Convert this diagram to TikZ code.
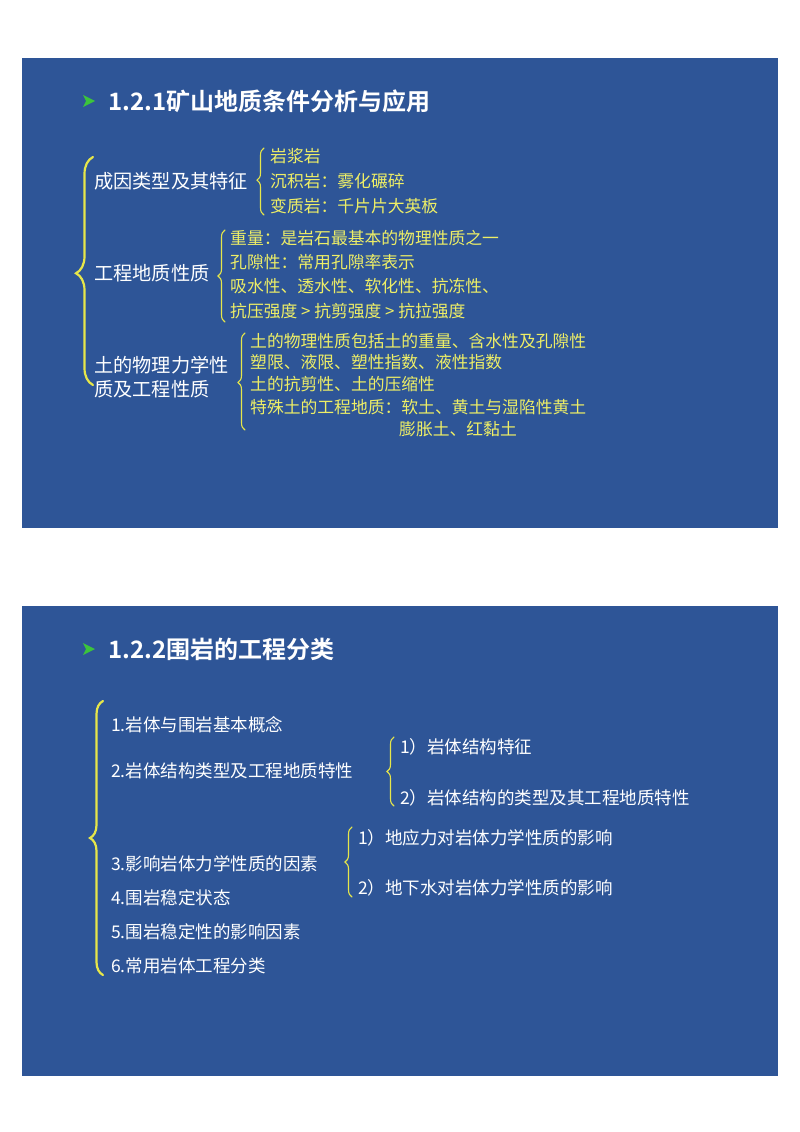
\documentclass[tikz,border=0pt]{standalone}
\usepackage{fontspec}
\setmainfont{Noto Sans CJK SC}
\newfontfamily\cjkb{Noto Sans CJK SC Bold}
\usetikzlibrary{decorations.pathreplacing}
\definecolor{slide}{HTML}{2E5597}
\definecolor{yel}{HTML}{EEEE66}
\definecolor{brc}{HTML}{E6E64A}
\definecolor{grn}{HTML}{3CC43C}
\tikzset{
  wt/.style={anchor=west,inner sep=0pt,text=white,font=\fontsize{19.2}{19.2}\selectfont},
  yt/.style={anchor=west,inner sep=0pt,text=yel,font=\fontsize{16.8}{16.8}\selectfont},
  bt/.style={anchor=west,inner sep=0pt,text=white,font=\fontsize{17.5}{17.5}\selectfont},
  ttl/.style={anchor=west,inner sep=0pt,text=white,font=\cjkb\fontsize{24}{24}\selectfont},
  brbig/.style={draw=brc,line width=2.2pt,line cap=round,decorate},
  brsm/.style={draw=brc,line width=1.1pt,line cap=round,decorate},
  bul/.style={fill=grn},
}
\begin{document}
\begin{tikzpicture}[x=1pt,y=-1pt]
\useasboundingbox (0,0) rectangle (800,1132);
\fill[white] (0,0) rectangle (800,1132);
\fill[slide] (22,58) rectangle (778,528);
\fill[slide] (22,606) rectangle (778,1076);
% titles
\fill[bul] (83,95) -- (95,101) -- (83,107) -- (86,101) -- cycle;
\node[ttl] (t1) at (108,101) {1.2.1矿山地质条件分析与应用};
\fill[bul] (83,643) -- (95,649) -- (83,655) -- (86,649) -- cycle;
\node[ttl] (t2) at (108,649) {1.2.2围岩的工程分类};
% slide 1
\draw[brbig,decoration={brace,amplitude=17pt,aspect=0.49}] (93,385) -- (93,157);
\node[wt] (n1) at (94,181) {成因类型及其特征};
\draw[brsm,decoration={brace,amplitude=7pt,aspect=0.52}] (264,215) -- (264,148);
\node[yt] (n11) at (270,156) {岩浆岩};
\node[yt] (n12) at (270,181) {沉积岩：雾化碾碎};
\node[yt] (n13) at (270,206) {变质岩：千片片大英板};
\node[wt] (n2) at (94,273) {工程地质性质};
\draw[brsm,decoration={brace,amplitude=7pt,aspect=0.5}] (225,322) -- (225,230);
\node[yt] (n21) at (230,238) {重量：是岩石最基本的物理性质之一};
\node[yt] (n22) at (230,262) {孔隙性：常用孔隙率表示};
\node[yt] (n23) at (230,286) {吸水性、透水性、软化性、抗冻性、};
\node[yt] (n24) at (230,311) {抗压强度 > 抗剪强度 > 抗拉强度};
\node[wt] (n3) at (94,365) {土的物理力学性};
\node[wt] (n3b) at (94,389) {质及工程性质};
\draw[brsm,decoration={brace,amplitude=7pt,aspect=0.49}] (245,430) -- (245,333);
\node[yt] (n31) at (250,341) {土的物理性质包括土的重量、含水性及孔隙性};
\node[yt] (n32) at (250,362) {塑限、液限、塑性指数、液性指数};
\node[yt] (n33) at (250,384) {土的抗剪性、土的压缩性};
\node[yt] (n34) at (250,407) {特殊土的工程地质：软土、黄土与湿陷性黄土};
\node[yt] (n35) at (399,429) {膨胀土、红黏土};
% slide 2
\draw[brbig,decoration={brace,amplitude=13pt,aspect=0.5}] (103,975) -- (103,701);
\node[bt] (m1) at (111,725) {1.岩体与围岩基本概念};
\node[bt] (m2) at (111,771) {2.岩体结构类型及工程地质特性};
\draw[brsm,decoration={brace,amplitude=7pt,aspect=0.5}] (394,806) -- (394,737);
\node[bt] (m21) at (400,747) {1）岩体结构特征};
\node[bt] (m22) at (400,798) {2）岩体结构的类型及其工程地质特性};
\node[bt] (m3) at (111,864) {3.影响岩体力学性质的因素};
\draw[brsm,decoration={brace,amplitude=7pt,aspect=0.5}] (352,897) -- (352,827);
\node[bt] (m31) at (358,838) {1）地应力对岩体力学性质的影响};
\node[bt] (m32) at (358,888) {2）地下水对岩体力学性质的影响};
\node[bt] (m4) at (111,898) {4.围岩稳定状态};
\node[bt] (m5) at (111,932) {5.围岩稳定性的影响因素};
\node[bt] (m6) at (111,966) {6.常用岩体工程分类};
\end{tikzpicture}
\end{document}
